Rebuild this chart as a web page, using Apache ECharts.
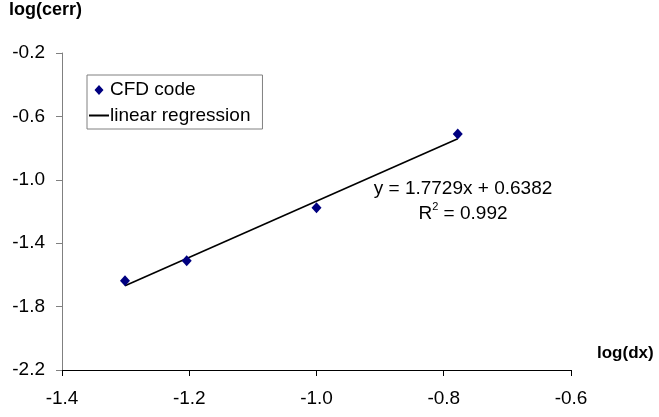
<!DOCTYPE html>
<html>
<head>
<meta charset="utf-8">
<script src="https://cdn.jsdelivr.net/npm/echarts@6/dist/echarts.min.js"></script>
<style>
  html, body { margin: 0; padding: 0; background: #fff; }
  #chart { width: 659px; height: 417px; }
</style>
</head>
<body>
<div id="chart"></div>
<script>
// values
const logDx = [-1.301, -1.204, -1.0, -0.778];
const logCerr = [-1.637, -1.510, -1.176, -0.711];
const fitLine = [[-1.301, -1.668], [-0.778, -0.741]];
const xTicks = [-1.4, -1.2, -1.0, -0.8, -0.6];
const yTicks = [-2.2, -1.8, -1.4, -1.0, -0.6, -0.2];

const font = '"Liberation Sans", Arial, sans-serif';
const chart = echarts.init(document.getElementById('chart'), null, { renderer: 'canvas' });

chart.setOption({
  animation: false,
  textStyle: { fontFamily: font },
  grid: { left: 62, right: 88, top: 53, bottom: 47, containLabel: false },
  legend: {
    orient: 'vertical',
    left: 87,
    top: 75,
    padding: [5, 12, 4, 1],
    itemGap: 6,
    itemWidth: 20,
    itemHeight: 20,
    borderColor: '#808080',
    borderWidth: 1,
    borderRadius: 0,
    textStyle: { fontFamily: font, fontSize: 19, color: '#000', padding: [0, 0, 0, -4] },
    data: [
      { name: 'CFD code', icon: 'path://M0,0L0.01,0M10,5L14.5,10L10,15L5.5,10ZM20,20L19.99,20' },
      { name: 'linear regression' }
    ]
  },
  xAxis: {
    type: 'value',
    min: -1.4,
    max: -0.6,
    splitLine: { show: false },
    axisLine: { onZero: false, lineStyle: { color: '#000', width: 1 } },
    axisTick: { show: true, length: 6, lineStyle: { color: '#000' }, customValues: xTicks },
    axisLabel: {
      margin: 19, fontSize: 19, color: '#000', fontFamily: font,
      customValues: xTicks,
      formatter: v => v.toFixed(1)
    }
  },
  yAxis: {
    type: 'value',
    min: -2.2,
    max: -0.2,
    splitLine: { show: false },
    axisLine: { show: true, onZero: false, lineStyle: { color: '#808080', width: 1 } },
    axisTick: { show: true, length: 6, lineStyle: { color: '#808080' }, customValues: yTicks },
    axisLabel: {
      margin: 17, fontSize: 19, color: '#000', fontFamily: font,
      customValues: yTicks,
      formatter: v => v.toFixed(1)
    }
  },
  graphic: [
    { type: 'text', x: 9, y: 1, style: { text: 'log(cerr)', font: 'bold 18px ' + font, fill: '#000' } },
    { type: 'text', x: 597, y: 345, style: { text: 'log(dx)', font: 'bold 17px ' + font, fill: '#000' } },
    {
      type: 'text', x: 463, y: 176,
      style: {
        text: '{s|y = 1.7729x + 0.6382}\n{s|R}{sup|2}{s| = 0.992}',
        align: 'center',
        verticalAlign: 'top',
        rich: {
          s: { fontSize: 19, fontFamily: font, fill: '#000', lineHeight: 25 },
          sup: { fontSize: 11, fontFamily: font, fill: '#000', verticalAlign: 'top', lineHeight: 16 }
        }
      }
    }
  ],
  series: [
    {
      name: 'CFD code',
      type: 'scatter',
      symbol: 'diamond',
      symbolSize: [10, 11],
      itemStyle: { color: '#000080', opacity: 1 },
      data: logDx.map((x, i) => [x, logCerr[i]]),
      z: 3
    },
    {
      name: 'linear regression',
      type: 'line',
      symbol: 'none',
      lineStyle: { color: '#000', width: 1.6 },
      itemStyle: { color: 'rgba(0,0,0,0)', borderWidth: 0 },
      data: fitLine,
      z: 2
    }
  ]
});
</script>
</body>
</html>
